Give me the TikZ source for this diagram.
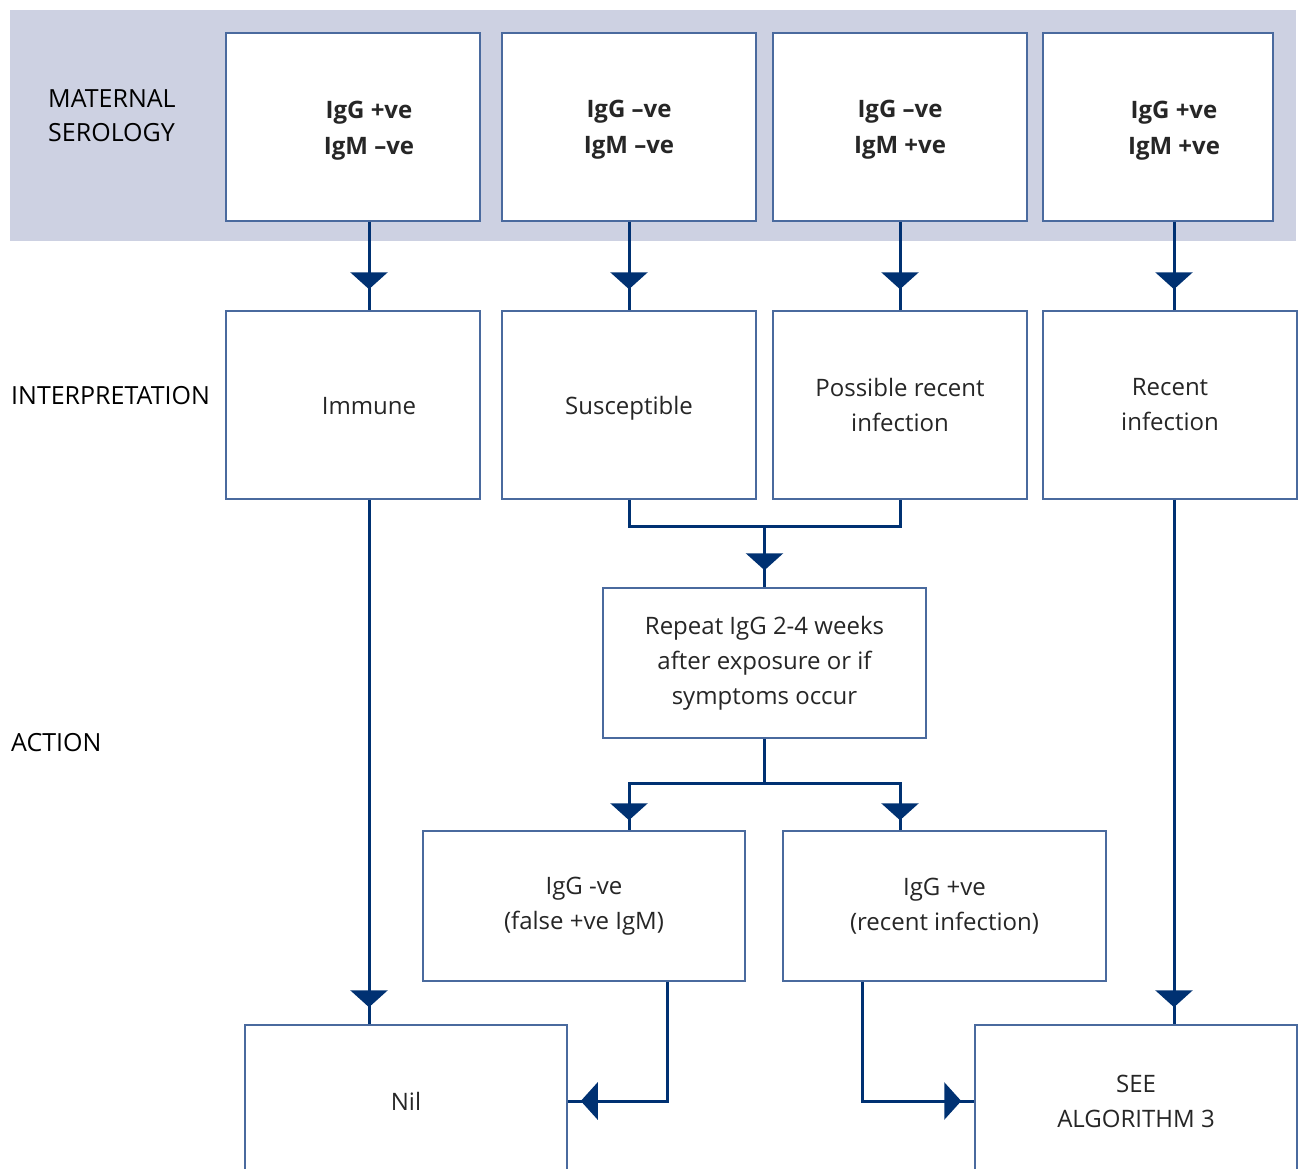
\documentclass[tikz,border=0pt]{standalone}
\usepackage{fontspec}
\setmainfont{Open Sans}
\usetikzlibrary{arrows.meta,decorations.markings,positioning}
\definecolor{band}{HTML}{CDD1E2}
\definecolor{boxline}{HTML}{4A6A9E}
\definecolor{navy}{HTML}{003172}
\definecolor{ink}{HTML}{262626}

\begin{document}
\begin{tikzpicture}[
    x=1pt, y=-1pt,
    font=\fontsize{24}{35}\selectfont,
    box/.style={rectangle, draw=boxline, line width=1.5pt, fill=white, text=ink, align=center, minimum width=254pt, minimum height=188pt, inner sep=0pt},
    lowbox/.style={box, minimum width=322pt, minimum height=150pt},
    head/.style={box, text depth=0pt, font=\fontsize{24}{36}\selectfont\bfseries},
    txt/.style={align=center, inner sep=0pt, text=ink},
    tag/.style={anchor=west, align=left, inner sep=0pt, text=black, font=\fontsize{25}{34}\selectfont},
    line/.style={color=navy, line width=3pt},
    link/.style={line, postaction={decorate}, decoration={markings, mark=at position -#1 with {\arrow{Triangle[length=17pt,width=37pt]}}}},
    link/.default=15pt
]
    \useasboundingbox (0,0) rectangle (1301,1169);
    \clip (0,0) rectangle (1301,1169);
    \fill[band] (10,10) rectangle (1296,241);

    % row labels
    \node[tag] (lser) at (48,116) {MATERNAL\\SEROLOGY};
    \node[tag] (lint) at (11,396) {INTERPRETATION};
    \node[tag] (lact) at (11,743) {ACTION};

    % serology
    \node[head] (ser1) at (353,127) {};
    \node[txt, text depth=0pt, font=\fontsize{24}{36}\selectfont\bfseries] (ser1t) at (369,128) {IgG +ve\\IgM –ve};
    \node[head] (ser2) at (629,127) {IgG –ve\\IgM –ve};
    \node[head] (ser3) at (900,127) {IgG –ve\\IgM +ve};
    \node[head, minimum width=230pt] (ser4) at (1158,127) {};
    \node[txt, text depth=0pt, font=\fontsize{24}{36}\selectfont\bfseries] (ser4t) at (1174,128) {IgG +ve\\IgM +ve};

    % interpretation
    \node[box] (int1) at (353,405) {};
    \node[txt] (int1t) at (369,406) {Immune};
    \node[box, text depth=0pt] (int2) at (629,405) {Susceptible};
    \node[box] (int3) at (900,405) {Possible recent\\infection};
    \node[box] (int4) at (1170,405) {Recent\\infection};

    % action
    \node[lowbox, minimum width=323pt] (rep) at (764.5,663) {Repeat IgG 2-4 weeks\\after exposure or if\\symptoms occur};
    \node[lowbox] (neg) at (584,906) {IgG -ve\\(false +ve IgM)};
    \node[lowbox, minimum width=323pt] (pos) at (944.5,906) {IgG +ve\\(recent infection)};
    \node[lowbox, minimum height=152pt] (nil) at (406,1101) {Nil};
    \node[lowbox, minimum height=152pt] (see) at (1136,1101) {SEE\\ALGORITHM 3};

    \coordinate (j1) at (764.5,526);
    \coordinate (j2) at (764.5,783);

    \draw[link=21pt] (ser1t |- ser1.south) -- (ser1t |- int1.north);
    \draw[link=21pt] (ser2.south) -- (int2.north);
    \draw[link=21pt] (ser3.south) -- (int3.north);
    \draw[link=21pt] (ser4t |- ser4.south) -- (ser4t |- int4.north);
    \draw[link=17pt] (int1t |- int1.south) -- (int1t |- nil.north);
    \draw[link=17pt] (ser4t |- int4.south) -- (ser4t |- see.north);
    \draw[line] (int2.south) |- (j1) -| (int3.south);
    \draw[link=17pt] (j1) -- (rep.north);
    \draw[line] (rep.south) -- (j2);
    \draw[link=10pt] (j2) -| (int2.south |- neg.north);
    \draw[link=10pt] (j2) -| (int3.south |- pos.north);
    \draw[link=13pt] ([xshift=83pt]neg.south) |- (nil.east);
    \draw[link=13pt] ([xshift=-82pt]pos.south) |- (see.west);
\end{tikzpicture}
\end{document}
